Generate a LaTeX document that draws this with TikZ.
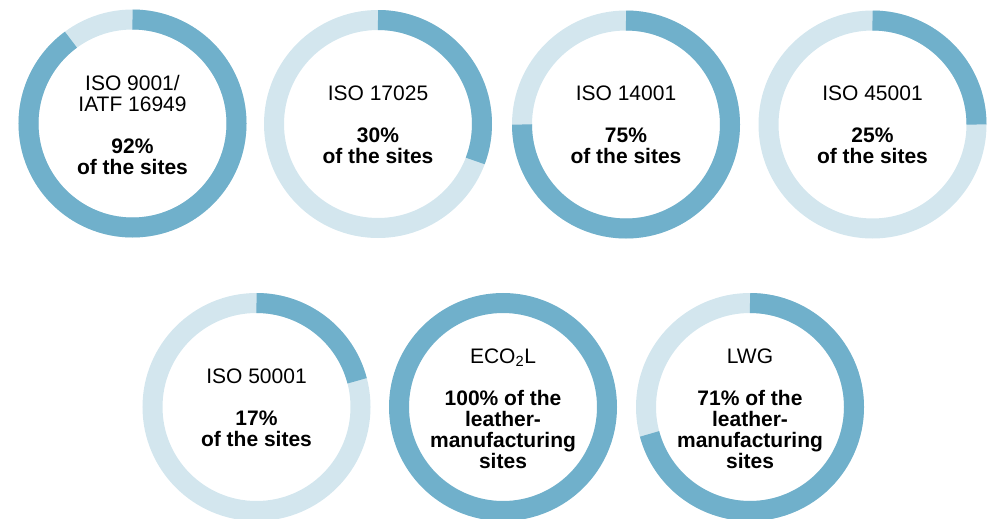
\documentclass[tikz,border=0pt]{standalone}
\usepackage{fontspec}
\setmainfont{Liberation Sans}
\definecolor{ringdark}{RGB}{112,176,203}
\definecolor{ringlight}{RGB}{211,230,238}
\tikzset{
  ringpart/.style={line width=20pt, line cap=butt},
  donutlabel/.style={align=center, font=\fontsize{21pt}{21pt}\selectfont, text=black, inner sep=0pt}
}
\newcommand{\donut}[3]{% x, y, end angle of dark arc (clockwise from top)
  \draw[ringpart, ringlight] (#1,#2) circle[radius=104];
  \draw[ringpart, ringdark] (#1,#2) ++(90:104) arc[start angle=90, end angle=#3, radius=104];
}
\begin{document}
\begin{tikzpicture}[x=1pt,y=1pt]
\useasboundingbox (0,0) rectangle (993,-519);
\clip (0,0) rectangle (993,-519);
\donut{132.5}{-123.5}{-233.7}
\donut{378}{-124}{-20.8}
\donut{626}{-124.5}{-180}
\donut{872.5}{-124.5}{0}
\donut{256.5}{-407}{14.6}
\draw[ringpart, ringdark] (503,-407) circle[radius=104];
\donut{750}{-407}{-165}
\node[donutlabel] (ta) at (132.5,-125) {ISO 9001/\\IATF 16949\\[21pt]\textbf{92\%}\\\textbf{of the sites}};
\node[donutlabel] (tb) at (378,-125) {ISO 17025\\[21pt]\textbf{30\%}\\\textbf{of the sites}};
\node[donutlabel] (tc) at (626,-125) {ISO 14001\\[21pt]\textbf{75\%}\\\textbf{of the sites}};
\node[donutlabel] (td) at (872.5,-125) {ISO 45001\\[21pt]\textbf{25\%}\\\textbf{of the sites}};
\node[donutlabel] (te) at (256.5,-408) {ISO 50001\\[21pt]\textbf{17\%}\\\textbf{of the sites}};
\node[donutlabel] (tf) at (503,-409) {ECO\textsubscript{2}L\\[21pt]\textbf{100\% of the}\\\textbf{leather-}\\\textbf{manufacturing}\\\textbf{sites}};
\node[donutlabel] (tg) at (750,-409) {LWG\\[21pt]\textbf{71\% of the}\\\textbf{leather-}\\\textbf{manufacturing}\\\textbf{sites}};
\end{tikzpicture}
\end{document}
